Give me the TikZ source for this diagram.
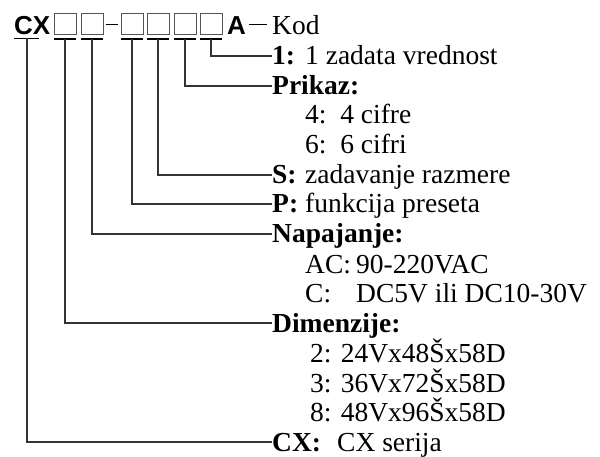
\documentclass[tikz,border=0pt]{standalone}
\usepackage{fontspec}
\setmainfont{Liberation Serif}
\newfontfamily\codefont{Liberation Sans}
\usetikzlibrary{positioning,calc}
\definecolor{wiregray}{HTML}{333333}
\definecolor{boxgray}{HTML}{555555}

\newcommand{\key}[2]{\makebox[#1][l]{\textbf{#2}}}

\begin{document}
\begin{tikzpicture}[
          x=1pt,y=-1pt,
          code/.style={anchor=base west,inner sep=0pt,font=\codefont\bfseries\fontsize{26}{28}\selectfont},
          slot/.style={draw=boxgray,line width=1pt,minimum width=22pt,minimum height=21pt,inner sep=0pt},
          uline/.style={draw=black,line width=1.6pt},
          hyph/.style={draw=black,line width=1.8pt},
          conn/.style={draw=wiregray,line width=1.2pt},
          lab/.style={anchor=base west,inner sep=0pt,text height=18pt,text depth=0pt,font=\fontsize{27.5}{30}\selectfont},
          sub/.style={lab}
        ]
        \useasboundingbox (0,0) rectangle (600,457);
        % model code
        \node[code] (cx) at (14,35) {CX};
        \node[slot] (b1) at (65,24.5) {};
        \node[slot] (b2) at (92,24.5) {};
        \node[slot] (b3) at (132,24.5) {};
        \node[slot] (b4) at (158,24.5) {};
        \node[slot] (b5) at (185,24.5) {};
        \node[slot] (b6) at (211,24.5) {};
        \node[code] (a) at (227,35) {A};
        \node[lab] (kod) at (272,35) {Kod};
        \draw[hyph,shorten <=2pt,shorten >=3pt] (b2.east) -- (b3.west);
        \draw[hyph,shorten <=3pt,shorten >=5pt] (a.east |- b6) -- (kod.west |- b6);
        % underlines
        \coordinate (u0) at ($(cx.base west)+(13,3.5)$);
        \draw[uline] ([xshift=-13pt]u0) -- ([xshift=12pt]u0);
        \foreach \i in {1,...,6}{
          \coordinate (u\i) at ([yshift=-3.5pt]b\i.south);
          \draw[uline] ([xshift=-11.5pt]u\i) -- ([xshift=11pt]u\i);
        }
        % descriptions
        \node[lab] (l1) at (272,65) {\key{33pt}{1:}1 zadata vrednost};
        \node[lab] (prikaz) at (272,95) {\textbf{Prikaz:}};
        \node[sub] at (305,124) {4:~~4 cifre};
        \node[sub] at (305,154) {6:~~6 cifri};
        \node[lab] (ls) at (272,184) {\key{33pt}{S:}zadavanje razmere};
        \node[lab] (lp) at (272,213) {\key{33pt}{P:}funkcija preseta};
        \node[lab] (napon) at (272,243) {\textbf{Napajanje:}};
        \node[sub] at (305,273) {\makebox[51pt][l]{AC:}90-220VAC};
        \node[sub] at (305,302) {\makebox[51pt][l]{C:}DC5V ili DC10-30V};
        \node[lab] (dim) at (272,332) {\textbf{Dimenzije:}};
        \node[sub] at (310,362) {2: 24Vx48Šx58D};
        \node[sub] at (310,392) {3: 36Vx72Šx58D};
        \node[sub] at (310,421) {8: 48Vx96Šx58D};
        \node[lab] (serija) at (272,451) {\key{65pt}{CX:}CX serija};
        % connectors
        \draw[conn] (u6) |- (l1.west);
        \draw[conn] (u5) |- (prikaz.west);
        \draw[conn] (u4) |- (ls.west);
        \draw[conn] (u3) |- (lp.west);
        \draw[conn] (u2) |- (napon.west);
        \draw[conn] (u1) |- (dim.west);
        \draw[conn] (u0) |- (serija.west);
      \end{tikzpicture}
\end{document}
